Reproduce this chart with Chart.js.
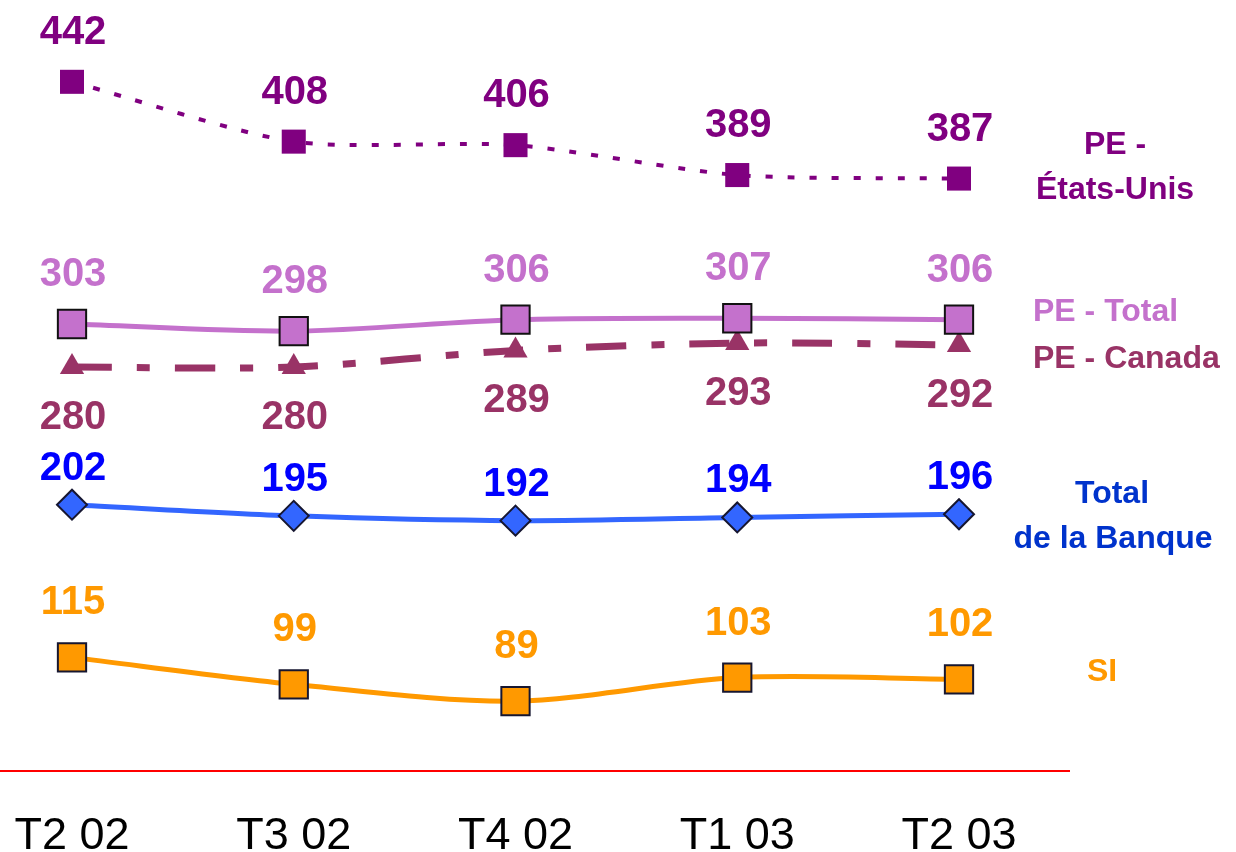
<!DOCTYPE html>
<html lang="fr">
<head>
<meta charset="UTF-8">
<title>PE / Total de la Banque / SI</title>
<script src="https://cdn.jsdelivr.net/npm/chart.js@4/dist/chart.umd.min.js"></script>
<style>
    body { margin: 0; background: #fff; }
    .wrap { width: 1236px; height: 852px; }
</style>
</head>
<body>
<div class="wrap">
    <canvas id="chart" width="1236" height="852"></canvas>
</div>
<script>
    // data
    const quarters = ['T2 02', 'T3 02', 'T4 02', 'T1 03', 'T2 03'];
    const peEtatsUnis = [442, 408, 406, 389, 387];
    const peTotal = [303, 298, 306, 307, 306];
    const peCanada = [280, 280, 289, 293, 292];
    const totalBanque = [202, 195, 192, 194, 196];
    const si = [115, 99, 89, 103, 102];

    const FONT = '"Liberation Sans", Arial, sans-serif';
    const EDGE = '#161630';

    // value labels, offset from the point (baseline)
    const labelStyle = [
        { color: '#800080', dy: -38 },
        { color: '#C471CC', dy: -38 },
        { color: '#993366', dy: 62 },
        { color: '#0000FF', dy: -25 },
        { color: '#FF9900', dy: -43 }
    ];

    const sideLabels = [
        { text: 'PE -', x: 1115, y: 154, align: 'center', color: '#800080' },
        { text: 'États-Unis', x: 1115, y: 199, align: 'center', color: '#800080' },
        { text: 'PE - Total', x: 1033, y: 321, align: 'left', color: '#C471CC' },
        { text: 'PE - Canada', x: 1033, y: 368, align: 'left', color: '#993366' },
        { text: 'Total', x: 1112, y: 503, align: 'center', color: '#0033CC' },
        { text: 'de la Banque', x: 1113, y: 548, align: 'center', color: '#0033CC' },
        { text: 'SI', x: 1102, y: 681, align: 'center', color: '#FF9900' }
    ];

    const textPlugin = {
        id: 'texts',
        beforeDraw(chart) {
            const c = chart.ctx;
            c.save();
            c.strokeStyle = '#FF0000';
            c.lineWidth = 2;
            c.beginPath();
            c.moveTo(0, 771);
            c.lineTo(1070, 771);
            c.stroke();
            c.restore();
        },
        afterDatasetsDraw(chart) {
            const c = chart.ctx;
            c.save();
            c.textBaseline = 'alphabetic';
            c.textAlign = 'center';
            c.font = 'bold 40px ' + FONT;
            chart.data.datasets.forEach((ds, i) => {
                const meta = chart.getDatasetMeta(i);
                c.fillStyle = labelStyle[i].color;
                meta.data.forEach((pt, j) => {
                    c.fillText(String(ds.data[j]), pt.x + 1, pt.y + labelStyle[i].dy);
                });
            });

            // category labels under the red line
            const xs = chart.scales.x;
            c.fillStyle = '#000';
            c.font = '45px ' + FONT;
            quarters.forEach((q, j) => {
                c.fillText(q, xs.getPixelForValue(j), 849);
            });

            c.font = 'bold 32px ' + FONT;
            sideLabels.forEach(l => {
                c.fillStyle = l.color;
                c.textAlign = l.align;
                c.fillText(l.text, l.x, l.y);
            });
            c.restore();
        }
    };

    const hidden = (min, max) => ({ display: false, min: min, max: max });

    new Chart(document.getElementById('chart'), {
        type: 'line',
        data: {
            labels: quarters,
            datasets: [{
                label: 'PE - États-Unis',
                data: peEtatsUnis,
                yAxisID: 'yUS',
                borderColor: '#800080',
                borderWidth: 4,
                borderDash: [7, 15],
                pointStyle: 'rect',
                pointRadius: 17,
                pointBackgroundColor: '#800080',
                pointBorderColor: '#800080',
                pointBorderWidth: 0,
                tension: 0.25
            }, {
                label: 'PE - Total',
                data: peTotal,
                yAxisID: 'yPE',
                borderColor: '#C471CC',
                borderWidth: 5,
                pointStyle: 'rect',
                pointRadius: 20,
                pointBackgroundColor: '#C471CC',
                pointBorderColor: '#111',
                pointBorderWidth: 2,
                tension: 0.3
            }, {
                label: 'PE - Canada',
                data: peCanada,
                yAxisID: 'yCA',
                borderColor: '#993366',
                borderWidth: 7,
                borderDash: [40, 25, 13, 25],
                pointStyle: 'triangle',
                pointRadius: 14,
                pointBackgroundColor: '#993366',
                pointBorderColor: '#993366',
                pointBorderWidth: 0,
                tension: 0.3
            }, {
                label: 'Total de la Banque',
                data: totalBanque,
                yAxisID: 'yTB',
                borderColor: '#3366FF',
                borderWidth: 5,
                pointStyle: 'rectRot',
                pointRadius: 15,
                pointBackgroundColor: '#3366FF',
                pointBorderColor: EDGE,
                pointBorderWidth: 2,
                tension: 0.3
            }, {
                label: 'SI',
                data: si,
                yAxisID: 'ySI',
                borderColor: '#FF9900',
                borderWidth: 5,
                pointStyle: 'rect',
                pointRadius: 20,
                pointBackgroundColor: '#FF9900',
                pointBorderColor: EDGE,
                pointBorderWidth: 2,
                tension: 0.3
            }]
        },
        options: {
            responsive: false,
            animation: false,
            clip: false,
            layout: { padding: { left: 72, right: 277, top: 20, bottom: 92 } },
            plugins: { legend: { display: false }, tooltip: { enabled: false } },
            scales: {
                x: { display: false },
                // each series sits on its own band of the (broken) value axis
                yUS: hidden(56.5, 476),
                yPE: hidden(-0.6, 513.3),
                yCA: hidden(67, 467),
                yTB: hidden(42, 504.5),
                ySI: hidden(54.1, 492)
            }
        },
        plugins: [textPlugin]
    });
</script>
</body>
</html>
